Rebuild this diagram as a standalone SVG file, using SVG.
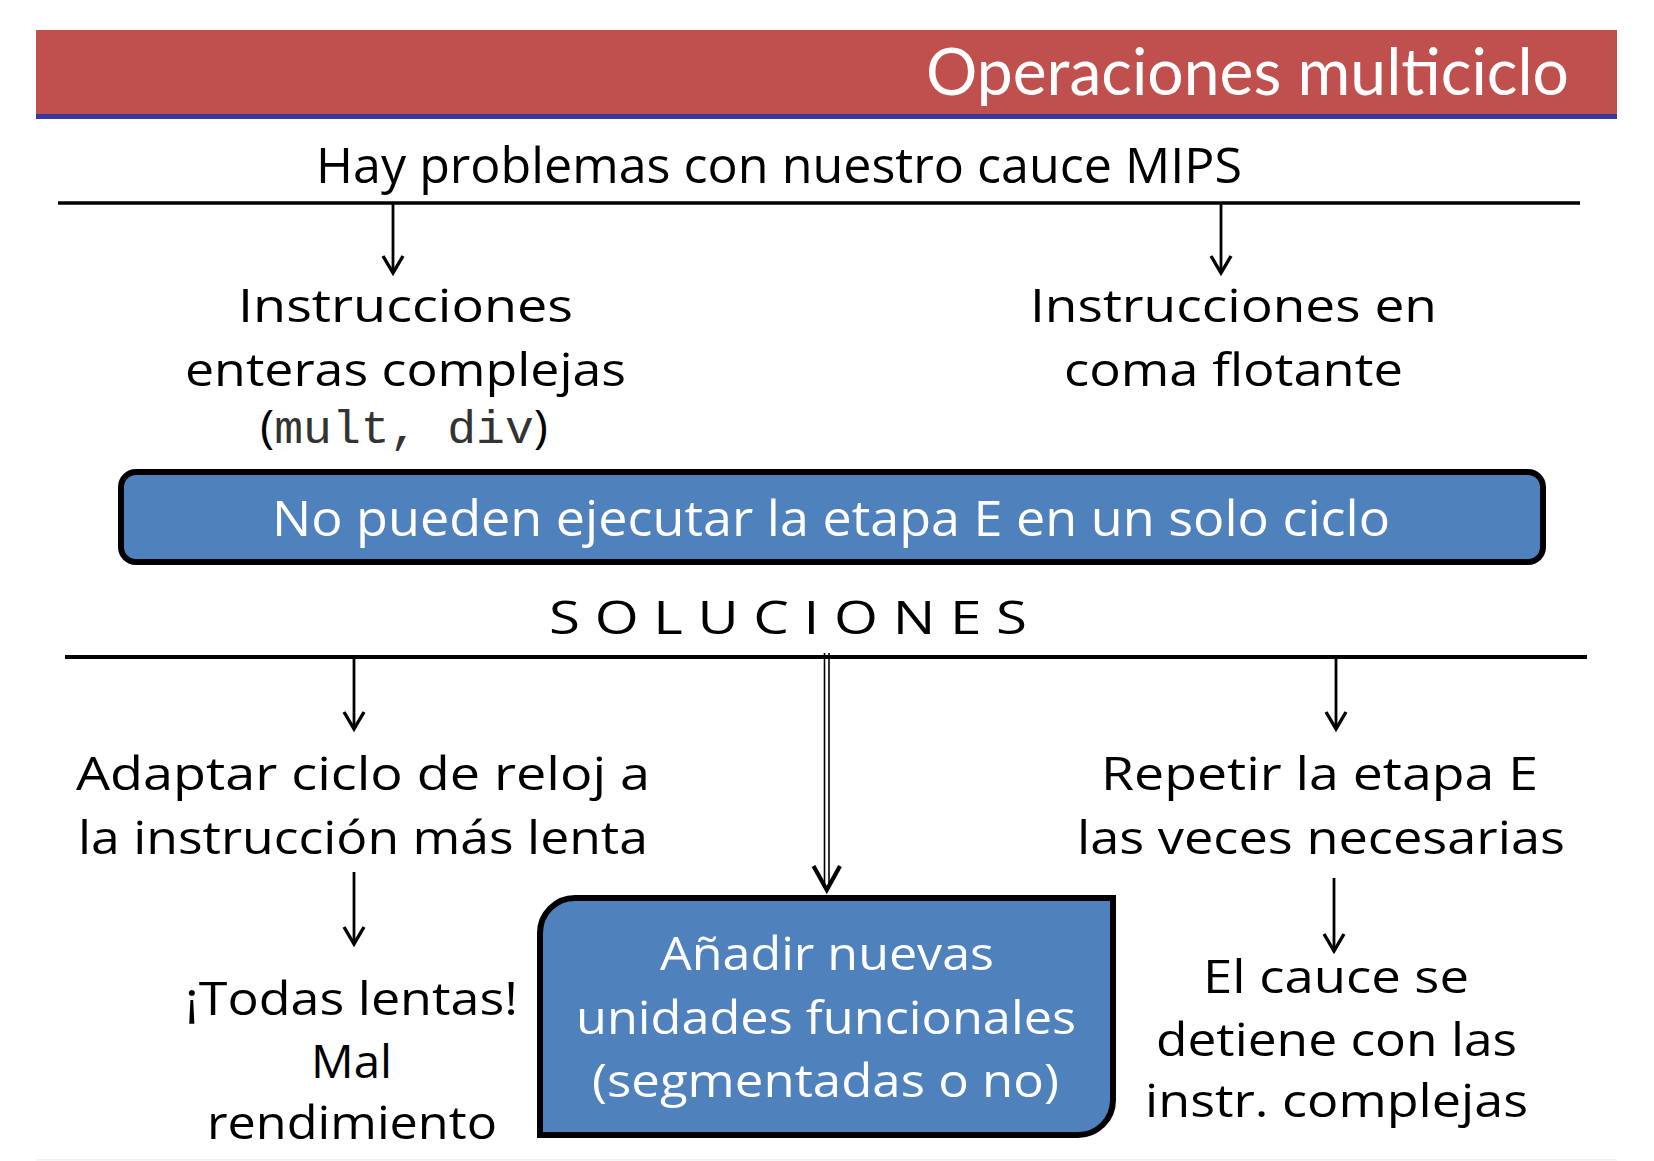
<svg xmlns="http://www.w3.org/2000/svg" width="1654" height="1161" viewBox="0 0 1654 1161">
<style>
  .t{font-family:"Open Sans","Noto Sans","DejaVu Sans",sans-serif;font-size:46px;fill:#000}
  .big{font-size:50px}
  .w{fill:#fff}
  .mono{font-family:"Liberation Mono","DejaVu Sans Mono",monospace;font-size:46px;fill:#333}
  .title{font-family:Lato,"Open Sans",sans-serif;font-size:65px;fill:#fff}
  .ln{stroke:#000;fill:none}
  .box{fill:#4F81BD;stroke:#000;stroke-width:6}
</style>
<defs>
  <marker id="ah" markerUnits="userSpaceOnUse" markerWidth="30" markerHeight="30" viewBox="-22 -15 26 30" refX="0" refY="0" orient="auto">
    <path d="M-17,-10 L0,0 L-17,10" fill="none" stroke="#000" stroke-width="3.4" stroke-linejoin="miter"/>
  </marker>
</defs>
<rect width="1654" height="1161" fill="#fff"/>

<g id="header">
  <rect x="36" y="30" width="1581" height="84" fill="#C0504D"/>
  <rect x="36" y="114" width="1581" height="5" fill="#3838A0"/>
  <text class="title" x="926" y="95" textLength="643" lengthAdjust="spacingAndGlyphs">Operaciones multiciclo</text>
</g>

<g id="connectors">
  <line class="ln" x1="58" y1="203" x2="1580" y2="203" stroke-width="3.6"/>
  <line class="ln" x1="65" y1="657" x2="1587" y2="657" stroke-width="4"/>
  <line class="ln" x1="393" y1="203" x2="393" y2="273" stroke-width="2.8" marker-end="url(#ah)"/>
  <line class="ln" x1="1221" y1="203" x2="1221" y2="273" stroke-width="2.8" marker-end="url(#ah)"/>
  <line class="ln" x1="354" y1="657" x2="354" y2="729" stroke-width="2.8" marker-end="url(#ah)"/>
  <line class="ln" x1="1336" y1="657" x2="1336" y2="729" stroke-width="2.8" marker-end="url(#ah)"/>
  <line class="ln" x1="354" y1="872" x2="354" y2="944" stroke-width="2.8" marker-end="url(#ah)"/>
  <line class="ln" x1="1334" y1="878" x2="1334" y2="951" stroke-width="2.8" marker-end="url(#ah)"/>
  <line class="ln" x1="824.5" y1="653" x2="824.5" y2="888" stroke-width="1.6"/>
  <line class="ln" x1="829" y1="653" x2="829" y2="888" stroke-width="1.6"/>
  <path class="ln" d="M813.5,866 L826.8,890 L840,866" stroke-width="4.2"/>
</g>

<g id="problem">
  <text class="t big" x="316" y="183" textLength="926" lengthAdjust="spacingAndGlyphs">Hay problemas con nuestro cauce MIPS</text>
</g>

<g id="enteras">
  <text class="t" x="238" y="322" textLength="335" lengthAdjust="spacingAndGlyphs">Instrucciones</text>
  <text class="t" x="185" y="386" textLength="441" lengthAdjust="spacingAndGlyphs">enteras complejas</text>
  <text class="t" x="260" y="443" textLength="288" lengthAdjust="spacingAndGlyphs">(<tspan class="mono">mult, div</tspan>)</text>
</g>

<g id="flotante">
  <text class="t" x="1030" y="322" textLength="407" lengthAdjust="spacingAndGlyphs">Instrucciones en</text>
  <text class="t" x="1064" y="386" textLength="339" lengthAdjust="spacingAndGlyphs">coma flotante</text>
</g>

<g id="noetapa">
  <rect class="box" x="121" y="472" width="1422" height="90" rx="15" ry="15"/>
  <text class="t big w" x="272" y="536" textLength="1118" lengthAdjust="spacingAndGlyphs">No pueden ejecutar la etapa E en un solo ciclo</text>
</g>

<g id="soluciones">
  <text class="t" x="549" y="634" textLength="478" lengthAdjust="spacingAndGlyphs">S O L U C I O N E S</text>
</g>

<g id="adaptar">
  <text class="t" x="76" y="790" textLength="574" lengthAdjust="spacingAndGlyphs">Adaptar ciclo de reloj a</text>
  <text class="t" x="78" y="854" textLength="570" lengthAdjust="spacingAndGlyphs">la instrucción más lenta</text>
</g>

<g id="lentas">
  <text class="t" x="185" y="1015" textLength="333" lengthAdjust="spacingAndGlyphs">¡Todas lentas!</text>
  <text class="t" x="311" y="1078" textLength="81" lengthAdjust="spacingAndGlyphs">Mal</text>
  <text class="t" x="207" y="1139" textLength="290" lengthAdjust="spacingAndGlyphs">rendimiento</text>
</g>

<g id="repetir">
  <text class="t" x="1101" y="790" textLength="437" lengthAdjust="spacingAndGlyphs">Repetir la etapa E</text>
  <text class="t" x="1077" y="854" textLength="488" lengthAdjust="spacingAndGlyphs">las veces necesarias</text>
</g>

<g id="detiene">
  <text class="t" x="1203" y="993" textLength="266" lengthAdjust="spacingAndGlyphs">El cauce se</text>
  <text class="t" x="1156" y="1056" textLength="361" lengthAdjust="spacingAndGlyphs">detiene con las</text>
  <text class="t" x="1145" y="1117" textLength="383" lengthAdjust="spacingAndGlyphs">instr. complejas</text>
</g>

<g id="unidades">
  <path class="box" d="M540,1135 L540,933 A35,35 0 0 1 575,898 L1113,898 L1113,1100 A35,35 0 0 1 1078,1135 Z"/>
  <text class="t w" x="660" y="970" textLength="334" lengthAdjust="spacingAndGlyphs">Añadir nuevas</text>
  <text class="t w" x="576" y="1034" textLength="500" lengthAdjust="spacingAndGlyphs">unidades funcionales</text>
  <text class="t w" x="592" y="1097" textLength="467" lengthAdjust="spacingAndGlyphs">(segmentadas o no)</text>
</g>

<rect x="36" y="1159" width="1581" height="1.5" fill="#EEF0F3"/>
</svg>
